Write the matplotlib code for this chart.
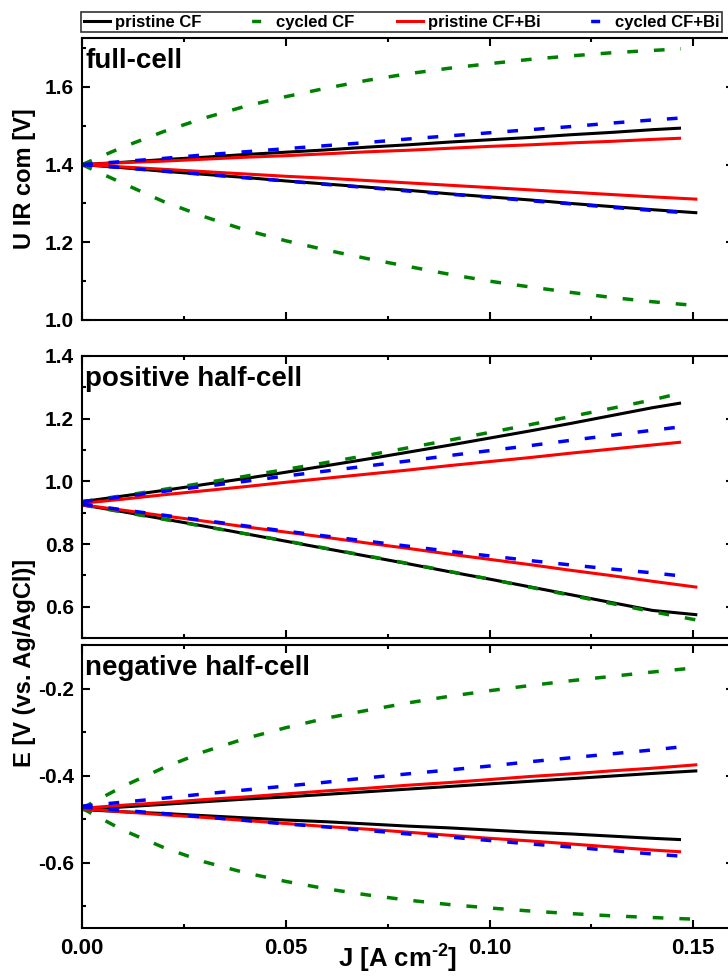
import matplotlib
matplotlib.use("Agg")
import matplotlib.pyplot as plt
from matplotlib.lines import Line2D
from matplotlib.ticker import MultipleLocator, FormatStrFormatter

plt.rcParams['font.family'] = ['Liberation Sans', 'DejaVu Sans']
plt.rcParams['font.weight'] = 'bold'
plt.rcParams['axes.unicode_minus'] = False
plt.rcParams['mathtext.fontset'] = 'custom'
plt.rcParams['mathtext.bf'] = 'Liberation Sans:bold'
plt.rcParams['mathtext.rm'] = 'Liberation Sans:bold'
plt.rcParams['mathtext.default'] = 'bf'
plt.rcParams['lines.scale_dashes'] = False

# ---------------- data ----------------
SERIES_NAMES = ["pristine CF", "cycled CF", "pristine CF+Bi", "cycled CF+Bi"]
SERIES_COLORS = ["#000000", "#008000", "#ff0000", "#0000ff"]
SERIES_DASHED = [False, True, False, True]

PANEL_TITLES = ["full-cell", "positive half-cell", "negative half-cell"]

# current density grids [A cm-2]
J_A = [0.000, 0.010, 0.020, 0.030, 0.040, 0.050, 0.060, 0.070, 0.080, 0.090,
       0.100, 0.110, 0.120, 0.130, 0.140, 0.147]
J_B = [0.000, 0.010, 0.020, 0.030, 0.040, 0.050, 0.060, 0.070, 0.080, 0.090,
       0.100, 0.110, 0.120, 0.130, 0.140, 0.151]

# full-cell U IR com [V]
FULL_PCF_UP = [1.400, 1.406, 1.413, 1.419, 1.426, 1.432, 1.438, 1.445, 1.451, 1.458,
               1.464, 1.470, 1.477, 1.483, 1.490, 1.494]
FULL_PCF_DN = [1.400, 1.392, 1.383, 1.375, 1.367, 1.358, 1.350, 1.342, 1.334, 1.325,
               1.317, 1.309, 1.300, 1.292, 1.284, 1.276]
FULL_CCF_UP = [1.400, 1.445, 1.485, 1.520, 1.550, 1.575, 1.597, 1.617, 1.634, 1.648,
               1.660, 1.671, 1.680, 1.688, 1.694, 1.698]
FULL_CCF_DN = [1.400, 1.352, 1.305, 1.266, 1.232, 1.204, 1.180, 1.158, 1.138, 1.118,
               1.100, 1.085, 1.071, 1.058, 1.047, 1.037]
FULL_PBI_UP = [1.400, 1.405, 1.409, 1.414, 1.419, 1.423, 1.428, 1.433, 1.437, 1.442,
               1.447, 1.451, 1.456, 1.460, 1.465, 1.468]
FULL_PBI_DN = [1.400, 1.394, 1.388, 1.382, 1.376, 1.370, 1.365, 1.359, 1.353, 1.347,
               1.341, 1.335, 1.329, 1.323, 1.317, 1.311]
FULL_CBI_UP = [1.400, 1.408, 1.416, 1.425, 1.433, 1.441, 1.449, 1.457, 1.466, 1.474,
               1.482, 1.490, 1.498, 1.507, 1.515, 1.520]
FULL_CBI_DN = [1.400, 1.392, 1.383, 1.375, 1.366, 1.358, 1.349, 1.341, 1.332, 1.324,
               1.316, 1.307, 1.299, 1.290, 1.282, 1.277]

# positive half-cell E [V vs Ag/AgCl]
POS_PCF_UP = [0.935, 0.953, 0.971, 0.990, 1.009, 1.029, 1.050, 1.071, 1.093, 1.115,
              1.138, 1.161, 1.185, 1.210, 1.235, 1.250]
POS_PCF_DN = [0.925, 0.903, 0.880, 0.857, 0.833, 0.809, 0.785, 0.761, 0.737, 0.712,
              0.688, 0.663, 0.638, 0.613, 0.588, 0.574]
POS_CCF_UP = [0.935, 0.954, 0.974, 0.995, 1.016, 1.038, 1.060, 1.083, 1.107, 1.131,
              1.156, 1.181, 1.207, 1.233, 1.260, 1.282]
POS_CCF_DN = [0.925, 0.902, 0.879, 0.856, 0.833, 0.810, 0.786, 0.762, 0.738, 0.713,
              0.688, 0.662, 0.636, 0.610, 0.584, 0.557]
POS_PBI_UP = [0.930, 0.943, 0.957, 0.970, 0.983, 0.997, 1.010, 1.023, 1.036, 1.050,
              1.063, 1.076, 1.090, 1.103, 1.116, 1.125]
POS_PBI_DN = [0.925, 0.908, 0.890, 0.873, 0.855, 0.838, 0.821, 0.803, 0.786, 0.768,
              0.751, 0.734, 0.716, 0.699, 0.681, 0.662]
POS_CBI_UP = [0.935, 0.951, 0.968, 0.984, 1.000, 1.017, 1.033, 1.049, 1.065, 1.082,
              1.098, 1.114, 1.131, 1.147, 1.163, 1.174]
POS_CBI_DN = [0.927, 0.909, 0.892, 0.875, 0.858, 0.841, 0.825, 0.809, 0.793, 0.777,
              0.762, 0.747, 0.733, 0.720, 0.708, 0.698]

# negative half-cell E [V vs Ag/AgCl]
NEG_PCF_UP = [-0.478, -0.472, -0.466, -0.460, -0.454, -0.449, -0.443, -0.437, -0.431, -0.425,
              -0.419, -0.413, -0.407, -0.401, -0.395, -0.389]
NEG_PCF_DN = [-0.478, -0.483, -0.487, -0.492, -0.497, -0.502, -0.506, -0.511, -0.516, -0.520,
              -0.525, -0.530, -0.534, -0.539, -0.544, -0.547]
NEG_CCF_UP = [-0.475, -0.425, -0.382, -0.345, -0.315, -0.290, -0.268, -0.250, -0.233, -0.218,
              -0.205, -0.193, -0.182, -0.172, -0.162, -0.152]
NEG_CCF_DN = [-0.475, -0.525, -0.565, -0.598, -0.623, -0.643, -0.660, -0.674, -0.686, -0.696,
              -0.704, -0.711, -0.717, -0.722, -0.726, -0.730]
NEG_PBI_UP = [-0.475, -0.468, -0.462, -0.455, -0.449, -0.442, -0.435, -0.429, -0.422, -0.416,
              -0.409, -0.402, -0.396, -0.389, -0.383, -0.375]
NEG_PBI_DN = [-0.476, -0.483, -0.490, -0.496, -0.503, -0.510, -0.517, -0.523, -0.530, -0.537,
              -0.544, -0.550, -0.557, -0.564, -0.571, -0.575]
NEG_CBI_UP = [-0.470, -0.461, -0.452, -0.442, -0.433, -0.424, -0.415, -0.405, -0.396, -0.387,
              -0.378, -0.368, -0.359, -0.350, -0.341, -0.334]
NEG_CBI_DN = [-0.472, -0.480, -0.487, -0.495, -0.503, -0.511, -0.518, -0.526, -0.534, -0.541,
              -0.549, -0.557, -0.564, -0.572, -0.580, -0.585]

# per panel: for each series (in legend order) the (J, V) of up and down branches
PANELS = [
    [((J_A, FULL_PCF_UP), (J_B, FULL_PCF_DN)),
     ((J_A, FULL_CCF_UP), (J_B, FULL_CCF_DN)),
     ((J_A, FULL_PBI_UP), (J_B, FULL_PBI_DN)),
     ((J_A, FULL_CBI_UP), (J_A, FULL_CBI_DN))],
    [((J_A, POS_PCF_UP), (J_B, POS_PCF_DN)),
     ((J_A, POS_CCF_UP), (J_B, POS_CCF_DN)),
     ((J_A, POS_PBI_UP), (J_B, POS_PBI_DN)),
     ((J_A, POS_CBI_UP), (J_A, POS_CBI_DN))],
    [((J_B, NEG_PCF_UP), (J_A, NEG_PCF_DN)),
     ((J_B, NEG_CCF_UP), (J_B, NEG_CCF_DN)),
     ((J_B, NEG_PBI_UP), (J_A, NEG_PBI_DN)),
     ((J_A, NEG_CBI_UP), (J_A, NEG_CBI_DN))],
]
YLIMS = [(1.0, 1.726), (0.5, 1.4), (-0.75, -0.1)]
YMAJOR = [0.2, 0.2, 0.2]

# ---------------- figure ----------------
W, H = 728, 976
fig = plt.figure(figsize=(W / 100, H / 100), dpi=100)

left_px, right_px = 82, 734
panel_px = [(38, 320), (356, 638), (645, 928)]

DASH = (0, (7.7, 11.5))
axes = []
for i, (top, bot) in enumerate(panel_px):
    ax = fig.add_axes([left_px / W, 1 - bot / H, (right_px - left_px) / W, (bot - top) / H])
    axes.append(ax)
    for s, (up, dn) in enumerate(PANELS[i]):
        ls = DASH if SERIES_DASHED[s] else '-'
        lw = 2.5 if SERIES_DASHED[s] else 2.2
        for (jj, vv) in (up, dn):
            ax.plot(jj, vv, color=SERIES_COLORS[s], linestyle=ls, lw=lw,
                    solid_capstyle='butt', dash_capstyle='butt')
    ax.set_xlim(0, 0.16)
    ax.set_ylim(*YLIMS[i])
    ax.xaxis.set_major_locator(MultipleLocator(0.05))
    ax.xaxis.set_minor_locator(MultipleLocator(0.025))
    ax.yaxis.set_major_locator(MultipleLocator(YMAJOR[i]))
    ax.yaxis.set_minor_locator(MultipleLocator(YMAJOR[i] / 2))
    ax.tick_params(which='both', direction='in', top=True, right=True, width=1.5)
    ax.tick_params(which='major', length=5.5, labelsize=15, pad=6)
    ax.tick_params(which='minor', length=3)
    ax.tick_params(axis='x', which='major', labelsize=16)
    ax.xaxis.set_major_formatter(FormatStrFormatter('%.2f'))
    ax.yaxis.set_major_formatter(FormatStrFormatter('%.1f'))
    if i < 2:
        ax.tick_params(labelbottom=False)
    for sp in ax.spines.values():
        sp.set_linewidth(1.5)
    ax.text(0.005, 0.965, PANEL_TITLES[i], transform=ax.transAxes,
            ha='left', va='top', fontsize=20, fontweight='bold')

axes[2].tick_params(axis='x', pad=7)

fig.text(25 / W, 1 - 179 / H, 'U IR com [V]', rotation=90, ha='center', va='center',
         fontsize=17, fontweight='bold')
fig.text(25 / W, 1 - 663 / H, 'E [V (vs. Ag/AgCl)]', rotation=90, ha='center', va='center',
         fontsize=17, fontweight='bold')
fig.text(398 / W, 1 - 959 / H, r'J [A cm$^{\text{-2}}$]', ha='center', va='center',
         fontsize=18.5, fontweight='bold')

handles = []
for s in range(4):
    if SERIES_DASHED[s]:
        h = Line2D([], [], color=SERIES_COLORS[s], lw=2.5, linestyle=(12.5, (6.5, 11.5)))
    else:
        h = Line2D([], [], color=SERIES_COLORS[s], lw=2.2)
    handles.append(h)

leg = fig.legend(handles, SERIES_NAMES, loc='lower left',
                 bbox_to_anchor=(81 / W, 1 - 32 / H, 641 / W, 24 / H),
                 mode='expand', ncol=4, borderaxespad=0, frameon=True, fancybox=False,
                 edgecolor='black', handlelength=1.6, handletextpad=0.3,
                 borderpad=0.15, columnspacing=1.0, prop={'weight': 'bold', 'size': 12})
leg.get_frame().set_linewidth(1.2)

fig.savefig('out.png', dpi=100)
